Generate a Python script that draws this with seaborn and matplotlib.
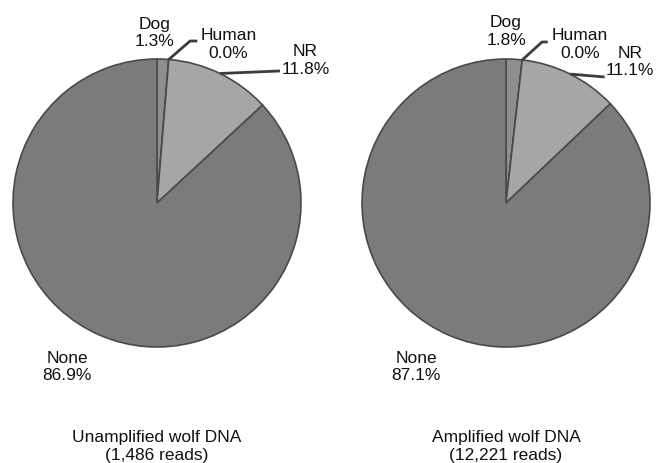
import numpy as np
import matplotlib
matplotlib.use('Agg')
from matplotlib import pyplot as plt
import seaborn as sns

# read counts split by origin of the best hit
categories = ['Dog', 'Human', 'NR', 'None']
unamplified_pct = [1.3, 0.0, 11.8, 86.9]
amplified_pct = [1.8, 0.0, 11.1, 87.1]
sample_names = ['Unamplified wolf DNA', 'Amplified wolf DNA']
sample_reads = [1486, 12221]

sns.set_theme(style='white')
plt.rcParams['font.family'] = ['Liberation Sans', 'DejaVu Sans']

colors = sns.color_palette(['#8e8e8e', '#8e8e8e', '#a6a6a6', '#7b7b7b'])
edge = '#4a4a4a'
txt = '#111111'

# label placement (in units of pie radius), one dict per pie
label_pos = [
    {'Dog': (-0.02, 1.18, 'center'), 'Human': (0.30, 1.10, 'left'),
     'NR': (1.03, 0.99, 'center'), 'None': (-0.625, -1.14, 'center')},
    {'Dog': (0.0, 1.19, 'center'), 'Human': (0.32, 1.10, 'left'),
     'NR': (0.86, 0.98, 'center'), 'None': (-0.625, -1.14, 'center')},
]
# leader line bends / ends for the small slices
leaders = [
    {'Human': [(0.23, 1.125), (0.28, 1.125)], 'NR': [(0.854, 0.917)]},
    {'Human': [(0.25, 1.118), (0.29, 1.118)], 'NR': [(0.685, 0.875)]},
]

W, H = 662, 463
fig = plt.figure(figsize=(W / 100, H / 100), dpi=100)
centers = [(157, 203), (506, 203)]
R = 144

for i, pct in enumerate([unamplified_pct, amplified_pct]):
    cx, cy = centers[i]
    ax = fig.add_axes([(cx - R) / W, (H - cy - R) / H, 2 * R / W, 2 * R / H])
    wedges, _ = ax.pie(pct, colors=colors, startangle=90, counterclock=False,
                       radius=1, wedgeprops=dict(edgecolor=edge, linewidth=1.2))
    ax.set_xlim(-1, 1)
    ax.set_ylim(-1, 1)
    ax.set_aspect('auto')
    ax.axis('off')

    for w, cat, v in zip(wedges, categories, pct):
        x, y, ha = label_pos[i][cat]
        ax.text(x, y, f'{cat}\n{v:.1f}%', ha=ha, va='center', fontsize=12.5,
                color=txt, linespacing=1.2, multialignment='center', clip_on=False)
        if cat in leaders[i]:
            mid = np.deg2rad((w.theta1 + w.theta2) / 2)
            pts = [(np.cos(mid), np.sin(mid))] + leaders[i][cat]
            xs, ys = zip(*pts)
            ax.plot(xs, ys, color='#3c3c3c', lw=2, clip_on=False,
                    solid_capstyle='butt')

    ax.text(0, -1.575, f'{sample_names[i]}\n({sample_reads[i]:,} reads)',
            ha='center', va='top', fontsize=12.5, color=txt, linespacing=1.25,
            clip_on=False)

fig.savefig('out.png', dpi=100)
